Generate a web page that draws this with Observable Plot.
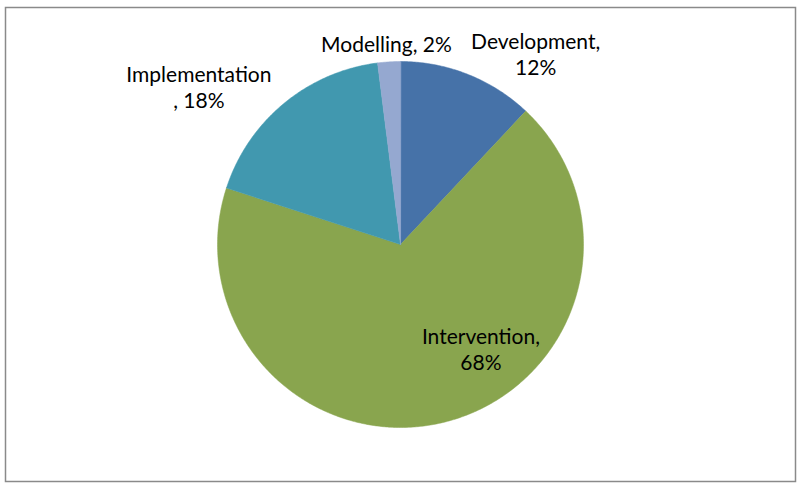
<!DOCTYPE html>
<html><head><meta charset="utf-8">
<script src="https://cdn.jsdelivr.net/npm/d3@7"></script>
<script src="https://cdn.jsdelivr.net/npm/@observablehq/plot@0.6"></script>
<style>body{margin:0;background:#fff}</style>
</head><body><div id="chart"></div>
<script>
// ---- data ----
const categories = ["Development", "Intervention", "Implementation", "Modelling"];
const shares = [12, 68, 18, 2];
const labels = ["Development,\n12%", "Intervention,\n68%", "Implementation\n, 18%", "Modelling, 2%"];
const colors = ["#4672A8", "#89A54E", "#4198AF", "#95A8D0"];

// ---- label layout: angle (deg, clockwise from 12 o'clock) and distance (in pie radii) ----
const labelAngle = [35.3, 142.4, -51.9, -4.0];
const labelDist = [1.278, 0.72, 1.40, 1.10];

// ---- geometry from data ----
const arcs = d3.pie().sort(null).value((d) => d)(shares);
const slices = arcs.map((a, i) => {
  const n = Math.max(2, Math.ceil((a.endAngle - a.startAngle) / (Math.PI / 360)));
  const ring = [[0, 0]];
  for (let k = 0; k <= n; k++) {
    const t = a.startAngle + (a.endAngle - a.startAngle) * (k / n);
    ring.push([Math.sin(t), Math.cos(t)]);
  }
  ring.push([0, 0]);
  return {type: "Feature", properties: {category: categories[i], color: colors[i]},
          geometry: {type: "Polygon", coordinates: [ring]}};
});
const labelData = labels.map((text, i) => {
  const t = labelAngle[i] * Math.PI / 180;
  return {text, x: labelDist[i] * Math.sin(t), y: labelDist[i] * Math.cos(t)};
});
const unitBox = {type: "Polygon", coordinates: [[[-1, -1], [1, -1], [1, 1], [-1, 1], [-1, -1]]]};

const chart = Plot.plot({
  width: 800,
  height: 488,
  marginLeft: 217, marginRight: 217, marginTop: 61, marginBottom: 61,
  projection: {type: "reflect-y", domain: unitBox, clip: false},
  style: {fontFamily: "Lato, 'Open Sans', sans-serif", background: "#fff", overflow: "visible"},
  marks: [
    Plot.frame({stroke: "#8a8a8a", strokeWidth: 1.5, insetLeft: -212, insetRight: -212, insetTop: -54, insetBottom: -54}),
    Plot.geo(slices, {fill: (d) => d.properties.color, stroke: (d) => d.properties.color, strokeWidth: 0.5}),
    Plot.text(labelData, {x: "x", y: "y", text: "text", fontSize: 21, fill: "#000", lineHeight: 1.25, textAnchor: "middle", clip: false})
  ]
});
document.getElementById("chart").appendChild(chart);
</script>
</body></html>
